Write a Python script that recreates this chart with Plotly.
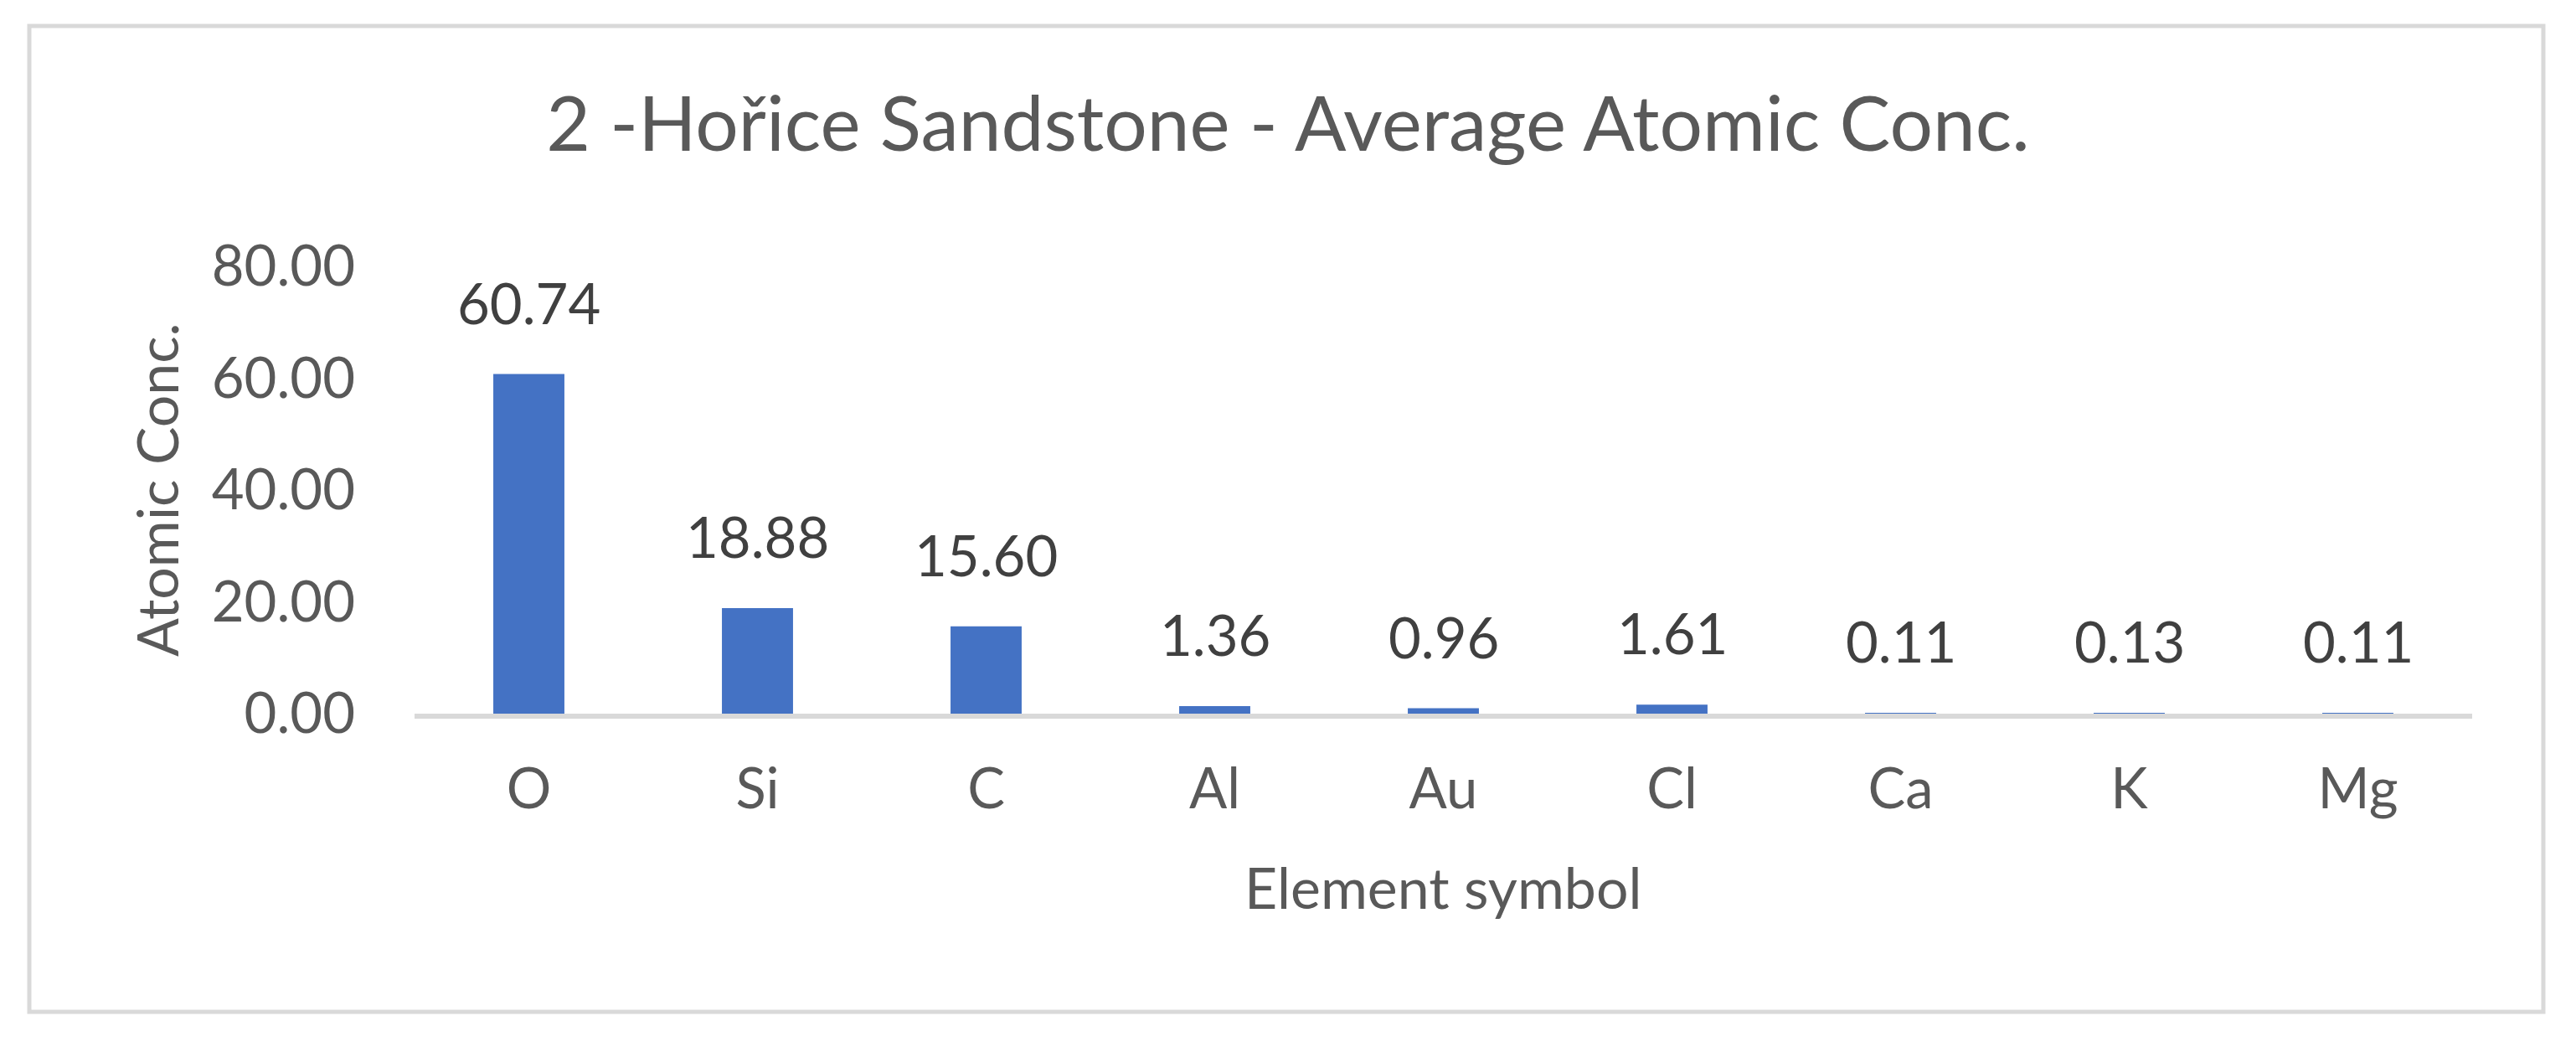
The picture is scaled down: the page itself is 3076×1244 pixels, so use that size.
import plotly.graph_objects as go

# Average atomic concentration per element (Hořice sandstone, sample 2)
elements = ["O", "Si", "C", "Al", "Au", "Cl", "Ca", "K", "Mg"]
atomic_conc = [60.74, 18.88, 15.60, 1.36, 0.96, 1.61, 0.11, 0.13, 0.11]
y_ticks = [0, 20, 40, 60, 80]

W, H = 3076, 1244
OFF = 8  # default body margin of the html page
# plot area in page pixels
PX0, PX1, PY0, PY1 = 495, 2952, 318, 852
L, R = PX0 - OFF, W - (PX1 - OFF)
T, B = PY0 - OFF, H - (PY1 - OFF)
FONT = "Lato"
GREY = "#595959"

pw = PX1 - PX0
ph = PY1 - PY0


def px_x(x):
    return (x - PX0) / pw


def px_y(y):
    return (PY1 - y) / ph


fig = go.Figure()
fig.add_trace(
    go.Bar(
        x=elements,
        y=atomic_conc,
        marker={"color": "#4472C4", "line": {"width": 0}},
        hoverinfo="x+y",
    )
)

# value labels above the bars
for el, val in zip(elements, atomic_conc):
    fig.add_annotation(
        x=el,
        y=val,
        text=f"{val:.2f}",
        showarrow=False,
        yanchor="bottom",
        yshift=44,
        font={"family": FONT, "size": 67, "color": "#404040"},
    )

# axis titles
fig.add_annotation(
    xref="paper", yref="paper",
    x=px_x(186), y=0.5,
    xanchor="center", yanchor="middle",
    text="Atomic Conc.",
    textangle=-90,
    showarrow=False,
    font={"family": FONT, "size": 68, "color": GREY},
)
fig.add_annotation(
    xref="paper", yref="paper",
    x=0.5, y=px_y(1058),
    xanchor="center", yanchor="middle",
    text="Element symbol",
    showarrow=False,
    font={"family": FONT, "size": 68, "color": GREY},
)

# chart border
fig.add_shape(
    type="rect",
    xref="paper", yref="paper",
    x0=px_x(35), x1=px_x(3037),
    y0=px_y(1208), y1=px_y(31),
    line={"color": "#D9D9D9", "width": 5},
)

fig.update_layout(
    width=W,
    height=H,
    margin={"l": L, "r": R, "t": T, "b": B, "autoexpand": False},
    paper_bgcolor="white",
    plot_bgcolor="white",
    bargap=0.689,
    showlegend=False,
    title={
        "text": "2 -Hořice Sandstone - Average Atomic Conc.",
        "x": (1538 - OFF) / W,
        "xanchor": "center",
        "y": 1 - 140 / H,
        "yanchor": "middle",
        "font": {"family": FONT, "size": 91, "color": GREY},
    },
)
fig.update_xaxes(
    showline=True,
    linecolor="#D9D9D9",
    linewidth=6,
    showgrid=False,
    ticks="",
    ticklabelstandoff=27,
    tickfont={"family": FONT, "size": 67, "color": GREY},
    automargin=False,
)
fig.update_yaxes(
    range=[0, 80],
    tickvals=y_ticks,
    tickformat=".2f",
    showgrid=False,
    zeroline=False,
    showline=False,
    ticks="",
    ticklabelstandoff=70,
    tickfont={"family": FONT, "size": 67, "color": GREY},
    automargin=False,
)

fig.write_html("out.html")
